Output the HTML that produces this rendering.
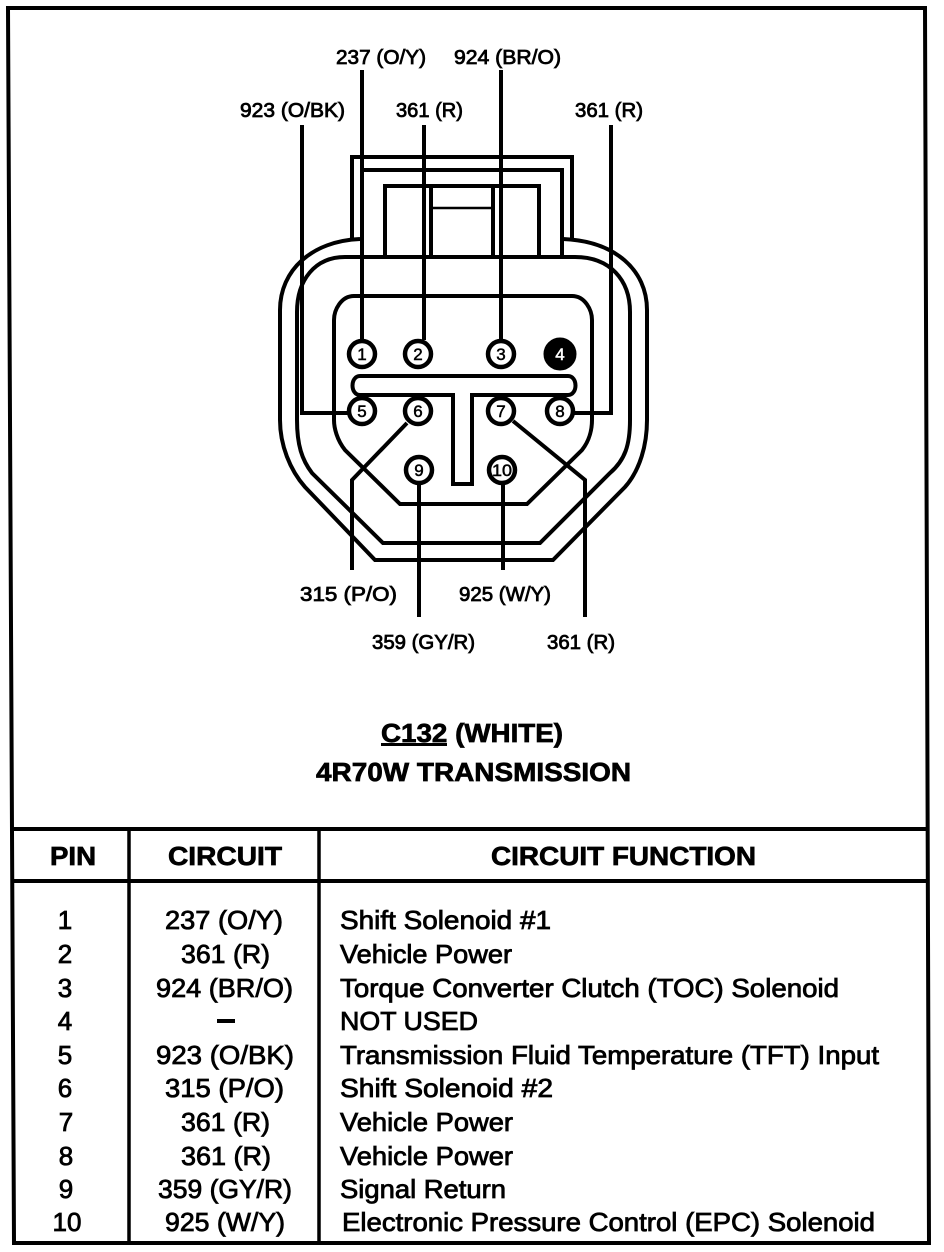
<!DOCTYPE html>
<html><head><meta charset="utf-8"><style>
html,body{margin:0;padding:0;background:#fff;width:944px;height:1252px;overflow:hidden}
svg{display:block}
text{font-family:"Liberation Sans",sans-serif;fill:#000;stroke:#000;stroke-width:.8}
.l{font-size:20px}
.t{font-size:26px}
.b{font-size:26px;font-weight:bold;stroke-width:.7}
.p{font-size:17px;text-anchor:middle;stroke-width:.5}
</style></head><body>
<svg width="944" height="1252" viewBox="0 0 944 1252" xmlns="http://www.w3.org/2000/svg">
<g fill="none" stroke="#000" stroke-width="4">
<!-- frame -->
<path d="M8 8H925L929 1243H14Z"/>
<path d="M12 829H928M12 881H928" stroke-width="4"/>
<path d="M129 829V1243M319 829V1243" stroke-width="3.5"/>
<!-- connector outer -->
<path d="M352 238V157H572V238" stroke-width="4"/>
<path d="M360 239C312 241 280 270 280 310V420C280 445 290 470 305 487L375 560H553L625 487C640 470 647 445 647 420V310C647 270 615 241 563 239"/>
<!-- second shell -->
<path d="M363 170H562V257" stroke-width="4"/>
<path d="M345 257H575C610 257 630 280 630 312V420C630 445 625 460 610 473L540 543H383L312 473C302 460 297 445 297 420V312C297 280 315 257 345 257Z"/>
<!-- latch -->
<path d="M385 257V186H539V257" stroke-width="4"/>
<path d="M431 186V257M493 186V257" stroke-width="4"/>
<path d="M431 208H493" stroke-width="2.5"/>
<!-- inner -->
<path d="M354 296H572C585 296 592 310 592 320V420C592 428 590 440 582 450L527 504H400L345 450C337 440 334 428 334 420V320C334 310 341 296 354 296Z"/>
<!-- T slot -->
<path d="M360 376H568C578 376 578 395 568 395H472V484H453V395H360C350 395 350 376 360 376Z"/>
<!-- leaders -->
<path d="M362 70V340M424 125V340M501 70V340"/>
<path d="M302 125V413H348M611 125V413H574"/>
<path d="M407 423L352 480V570M419 484V617M503 484V570M513 421L585 480V617"/>
<!-- pins -->
<g fill="#fff" stroke-width="4.5">
<circle cx="362" cy="354" r="13"/><circle cx="418" cy="354" r="13"/><circle cx="501" cy="354" r="13"/>
<circle cx="362" cy="411" r="13"/><circle cx="418" cy="411" r="13"/><circle cx="501" cy="411" r="13"/><circle cx="560" cy="411" r="13"/>
<circle cx="419" cy="470" r="13"/><circle cx="502" cy="470" r="13"/>
</g>
<circle cx="560" cy="354" r="14.5" fill="#000"/>
</g>
<text class="p" x="362" y="360">1</text><text class="p" x="418" y="360">2</text><text class="p" x="501" y="360">3</text>
<text class="p" x="560" y="360" style="fill:#fff;stroke:#fff">4</text>
<text class="p" x="362" y="417">5</text><text class="p" x="418" y="417">6</text><text class="p" x="501" y="417">7</text><text class="p" x="560" y="417">8</text>
<text class="p" x="419" y="476">9</text><text class="p" x="502" y="476" textLength="20" lengthAdjust="spacingAndGlyphs">10</text>
<!-- labels -->
<g class="l">
<text class="l" x="336" y="64" textLength="90" lengthAdjust="spacingAndGlyphs">237 (O/Y)</text>
<text class="l" x="454" y="64" textLength="107" lengthAdjust="spacingAndGlyphs">924 (BR/O)</text>
<text class="l" x="240" y="117" textLength="105" lengthAdjust="spacingAndGlyphs">923 (O/BK)</text>
<text class="l" x="396" y="117" textLength="67" lengthAdjust="spacingAndGlyphs">361 (R)</text>
<text class="l" x="575" y="117" textLength="68" lengthAdjust="spacingAndGlyphs">361 (R)</text>
<text class="l" x="300" y="601" textLength="97" lengthAdjust="spacingAndGlyphs">315  (P/O)</text>
<text class="l" x="459" y="601" textLength="92" lengthAdjust="spacingAndGlyphs">925 (W/Y)</text>
<text class="l" x="372" y="649" textLength="103" lengthAdjust="spacingAndGlyphs">359 (GY/R)</text>
<text class="l" x="547" y="649" textLength="68" lengthAdjust="spacingAndGlyphs">361 (R)</text>
</g>
<!-- title -->
<text class="b" x="381" y="742" textLength="182" lengthAdjust="spacingAndGlyphs">C132 (WHITE)</text>
<rect x="381" y="743" width="66" height="3"/>
<text class="b" x="316" y="781" textLength="315" lengthAdjust="spacingAndGlyphs">4R70W TRANSMISSION</text>
<!-- header -->
<text class="b" x="50" y="865" textLength="46" lengthAdjust="spacingAndGlyphs">PIN</text>
<text class="b" x="168" y="865" textLength="114" lengthAdjust="spacingAndGlyphs">CIRCUIT</text>
<text class="b" x="491" y="865" textLength="265" lengthAdjust="spacingAndGlyphs">CIRCUIT FUNCTION</text>
<!-- pins col -->
<g>
<text class="t" x="65" y="929" text-anchor="middle">1</text>
<text class="t" x="65" y="963" text-anchor="middle">2</text>
<text class="t" x="65" y="997" text-anchor="middle">3</text>
<text class="t" x="65" y="1030" text-anchor="middle">4</text>
<text class="t" x="65" y="1064" text-anchor="middle">5</text>
<text class="t" x="65" y="1097" text-anchor="middle">6</text>
<text class="t" x="66" y="1131" text-anchor="middle">7</text>
<text class="t" x="66" y="1165" text-anchor="middle">8</text>
<text class="t" x="66" y="1198" text-anchor="middle">9</text>
<text class="t" x="67" y="1231" text-anchor="middle">10</text>
</g>
<!-- circuit col -->
<text class="t" x="165" y="929" textLength="118" lengthAdjust="spacingAndGlyphs">237 (O/Y)</text>
<text class="t" x="181" y="963" textLength="89" lengthAdjust="spacingAndGlyphs">361 (R)</text>
<text class="t" x="156" y="997" textLength="137" lengthAdjust="spacingAndGlyphs">924 (BR/O)</text>
<rect x="217" y="1019" width="18" height="4"/>
<text class="t" x="156" y="1064" textLength="138" lengthAdjust="spacingAndGlyphs">923 (O/BK)</text>
<text class="t" x="165" y="1097" textLength="119" lengthAdjust="spacingAndGlyphs">315 (P/O)</text>
<text class="t" x="181" y="1131" textLength="89" lengthAdjust="spacingAndGlyphs">361 (R)</text>
<text class="t" x="181" y="1165" textLength="90" lengthAdjust="spacingAndGlyphs">361 (R)</text>
<text class="t" x="158" y="1198" textLength="134" lengthAdjust="spacingAndGlyphs">359 (GY/R)</text>
<text class="t" x="165" y="1231" textLength="120" lengthAdjust="spacingAndGlyphs">925 (W/Y)</text>
<!-- function col -->
<text class="t" x="340" y="929" textLength="211" lengthAdjust="spacingAndGlyphs">Shift Solenoid #1</text>
<text class="t" x="340" y="963" textLength="172" lengthAdjust="spacingAndGlyphs">Vehicle Power</text>
<text class="t" x="340" y="997" textLength="499" lengthAdjust="spacingAndGlyphs">Torque Converter Clutch (TOC) Solenoid</text>
<text class="t" x="340" y="1030" textLength="138" lengthAdjust="spacingAndGlyphs">NOT USED</text>
<text class="t" x="340" y="1064" textLength="539" lengthAdjust="spacingAndGlyphs">Transmission Fluid Temperature (TFT) Input</text>
<text class="t" x="340" y="1097" textLength="213" lengthAdjust="spacingAndGlyphs">Shift Solenoid #2</text>
<text class="t" x="340" y="1131" textLength="173" lengthAdjust="spacingAndGlyphs">Vehicle Power</text>
<text class="t" x="340" y="1165" textLength="173" lengthAdjust="spacingAndGlyphs">Vehicle Power</text>
<text class="t" x="340" y="1198" textLength="166" lengthAdjust="spacingAndGlyphs">Signal Return</text>
<text class="t" x="342" y="1231" textLength="533" lengthAdjust="spacingAndGlyphs">Electronic Pressure Control (EPC) Solenoid</text>
</svg>
</body></html>
